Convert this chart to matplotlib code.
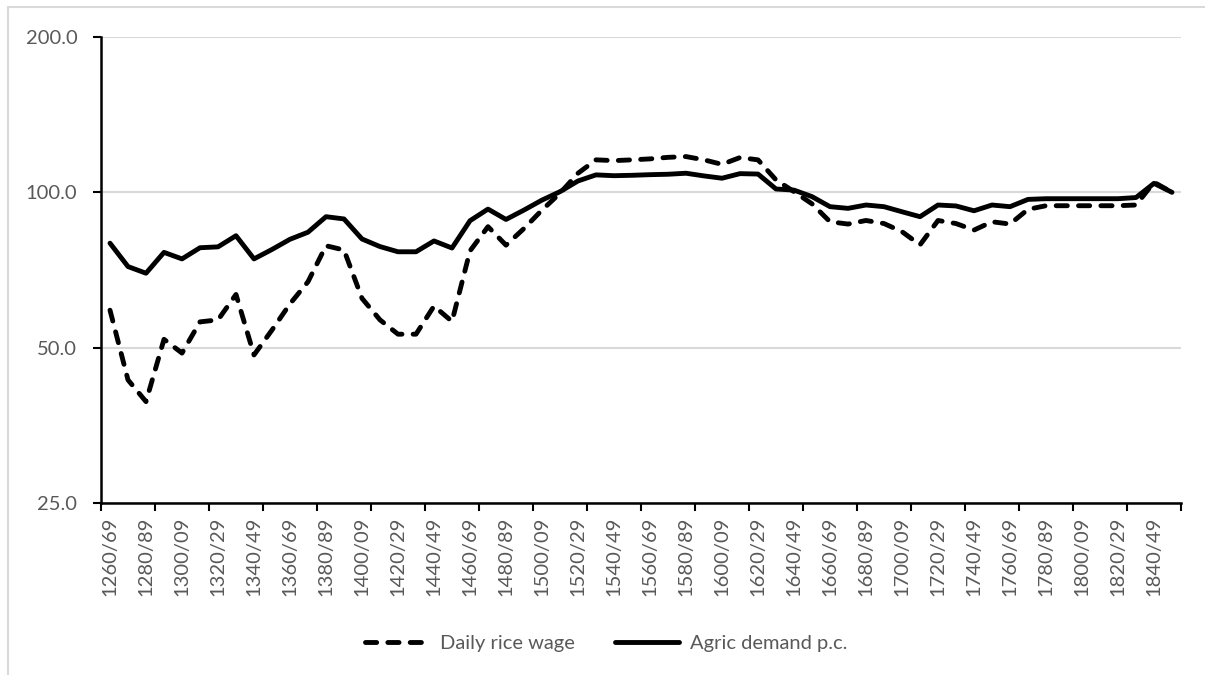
"""Daily rice wage vs agricultural demand per capita, decadal, log scale
(index, 1850/59 = 100)."""

import matplotlib
matplotlib.use("Agg")
import matplotlib.pyplot as plt
from matplotlib.patches import Rectangle
from matplotlib.ticker import FixedLocator, NullFormatter, FixedFormatter

plt.rcParams["font.family"] = ["Lato", "DejaVu Sans"]

# decades 1260/69 .. 1850/59
DECADES = [f"{y}/{(y + 9) % 100:02d}" for y in range(1260, 1860, 10)]

RICE_WAGE = [
    59.1, 43.3, 39.3, 51.9, 48.8, 56.1, 56.6, 63.4, 48.4, 54.1,
    60.8, 67.1, 78.8, 77.3, 62.3, 56.6, 53.1, 53.1, 60.2, 56.2,
    77.0, 85.8, 79.0, 85.1, 92.4, 99.6, 108.9, 115.6, 115.2, 115.6,
    116.1, 116.9, 117.3, 115.6, 113.3, 116.8, 115.6, 105.7, 100.3, 95.0,
    87.7, 86.8, 88.2, 87.0, 83.9, 79.1, 88.2, 87.0, 84.5, 87.7,
    86.8, 92.7, 94.2, 94.2, 94.2, 94.2, 94.2, 94.5, 104.6, 100.0,
]
AGRIC_DEMAND = [
    79.7, 71.8, 69.7, 76.5, 74.3, 78.1, 78.4, 82.4, 74.3, 77.5,
    81.1, 83.7, 89.7, 88.8, 81.2, 78.5, 76.7, 76.7, 80.5, 78.0,
    88.1, 92.8, 88.6, 92.4, 96.6, 100.3, 105.2, 108.1, 107.7, 107.9,
    108.2, 108.4, 108.9, 107.6, 106.5, 108.7, 108.5, 101.5, 101.0, 98.1,
    93.8, 93.1, 94.5, 93.8, 91.7, 89.7, 94.5, 94.1, 92.1, 94.5,
    93.8, 96.9, 97.2, 97.2, 97.2, 97.2, 97.2, 97.7, 104.1, 100.0,
]
Y_TICKS = [25, 50, 100, 200]

TEXT_GREY = "#595959"
GRID_GREY = "#d9d9d9"
FS = 14.5


def main() -> None:
    fig = plt.figure(figsize=(12.05, 6.75), dpi=100)
    W, H = 1205, 675
    ax = fig.add_axes([101 / W, 1 - 503 / H, (1181 - 101) / W, (503 - 37) / H])

    x = list(range(len(DECADES)))
    lw = 3.5
    ax.plot(x, RICE_WAGE, color="black", lw=lw, linestyle=(0, (2.3, 2.3)),
            dash_capstyle="round", solid_joinstyle="round",
            label="Daily rice wage", zorder=3)
    ax.plot(x, AGRIC_DEMAND, color="black", lw=lw, solid_joinstyle="round",
            solid_capstyle="round", label="Agric demand p.c.", zorder=3)

    ax.set_yscale("log")
    ax.set_ylim(25, 200)
    ax.yaxis.set_major_locator(FixedLocator(Y_TICKS))
    ax.yaxis.set_major_formatter(FixedFormatter([f"{v:.1f}" for v in Y_TICKS]))
    ax.yaxis.set_minor_locator(FixedLocator([]))
    ax.tick_params(axis="y", which="major", length=6, width=1.5, color="black",
                   pad=11, labelsize=FS, labelcolor=TEXT_GREY, direction="out")

    # categories sit between tick marks; marks every 3, labels every 2
    ax.set_xlim(-0.5, len(DECADES) - 0.5)
    ax.xaxis.set_major_locator(FixedLocator([i - 0.5 for i in range(0, len(DECADES) + 1, 3)]))
    ax.xaxis.set_major_formatter(NullFormatter())
    ax.xaxis.set_minor_locator(FixedLocator(x[::2]))
    ax.xaxis.set_minor_formatter(FixedFormatter(DECADES[::2]))
    ax.tick_params(axis="x", which="major", length=6, width=1.5, color="black",
                   direction="out")
    ax.tick_params(axis="x", which="minor", length=0, pad=10, labelsize=FS,
                   labelcolor=TEXT_GREY, labelrotation=90)

    ax.grid(True, axis="y", which="major", color=GRID_GREY, lw=1.5, zorder=0)
    for side in ("top", "right"):
        ax.spines[side].set_visible(False)
    for side in ("left", "bottom"):
        ax.spines[side].set_linewidth(1.8)
        ax.spines[side].set_zorder(4)

    handles, labels = ax.get_legend_handles_labels()
    leg = fig.legend(handles, labels, loc="center", bbox_to_anchor=(0.503, 1 - 643 / H),
                     ncol=2, frameon=False, fontsize=FS, handlelength=3.2,
                     handletextpad=0.5, columnspacing=2.0)
    for t in leg.get_texts():
        t.set_color(TEXT_GREY)

    # chart-area border (top and left edges visible)
    fig.patches.append(Rectangle((8 / W, -0.1), 1.2, 1.1 - 7 / H,
                                 transform=fig.transFigure, fill=False,
                                 edgecolor=GRID_GREY, lw=1.5))

    fig.savefig("out.png", dpi=100)


if __name__ == "__main__":
    main()
